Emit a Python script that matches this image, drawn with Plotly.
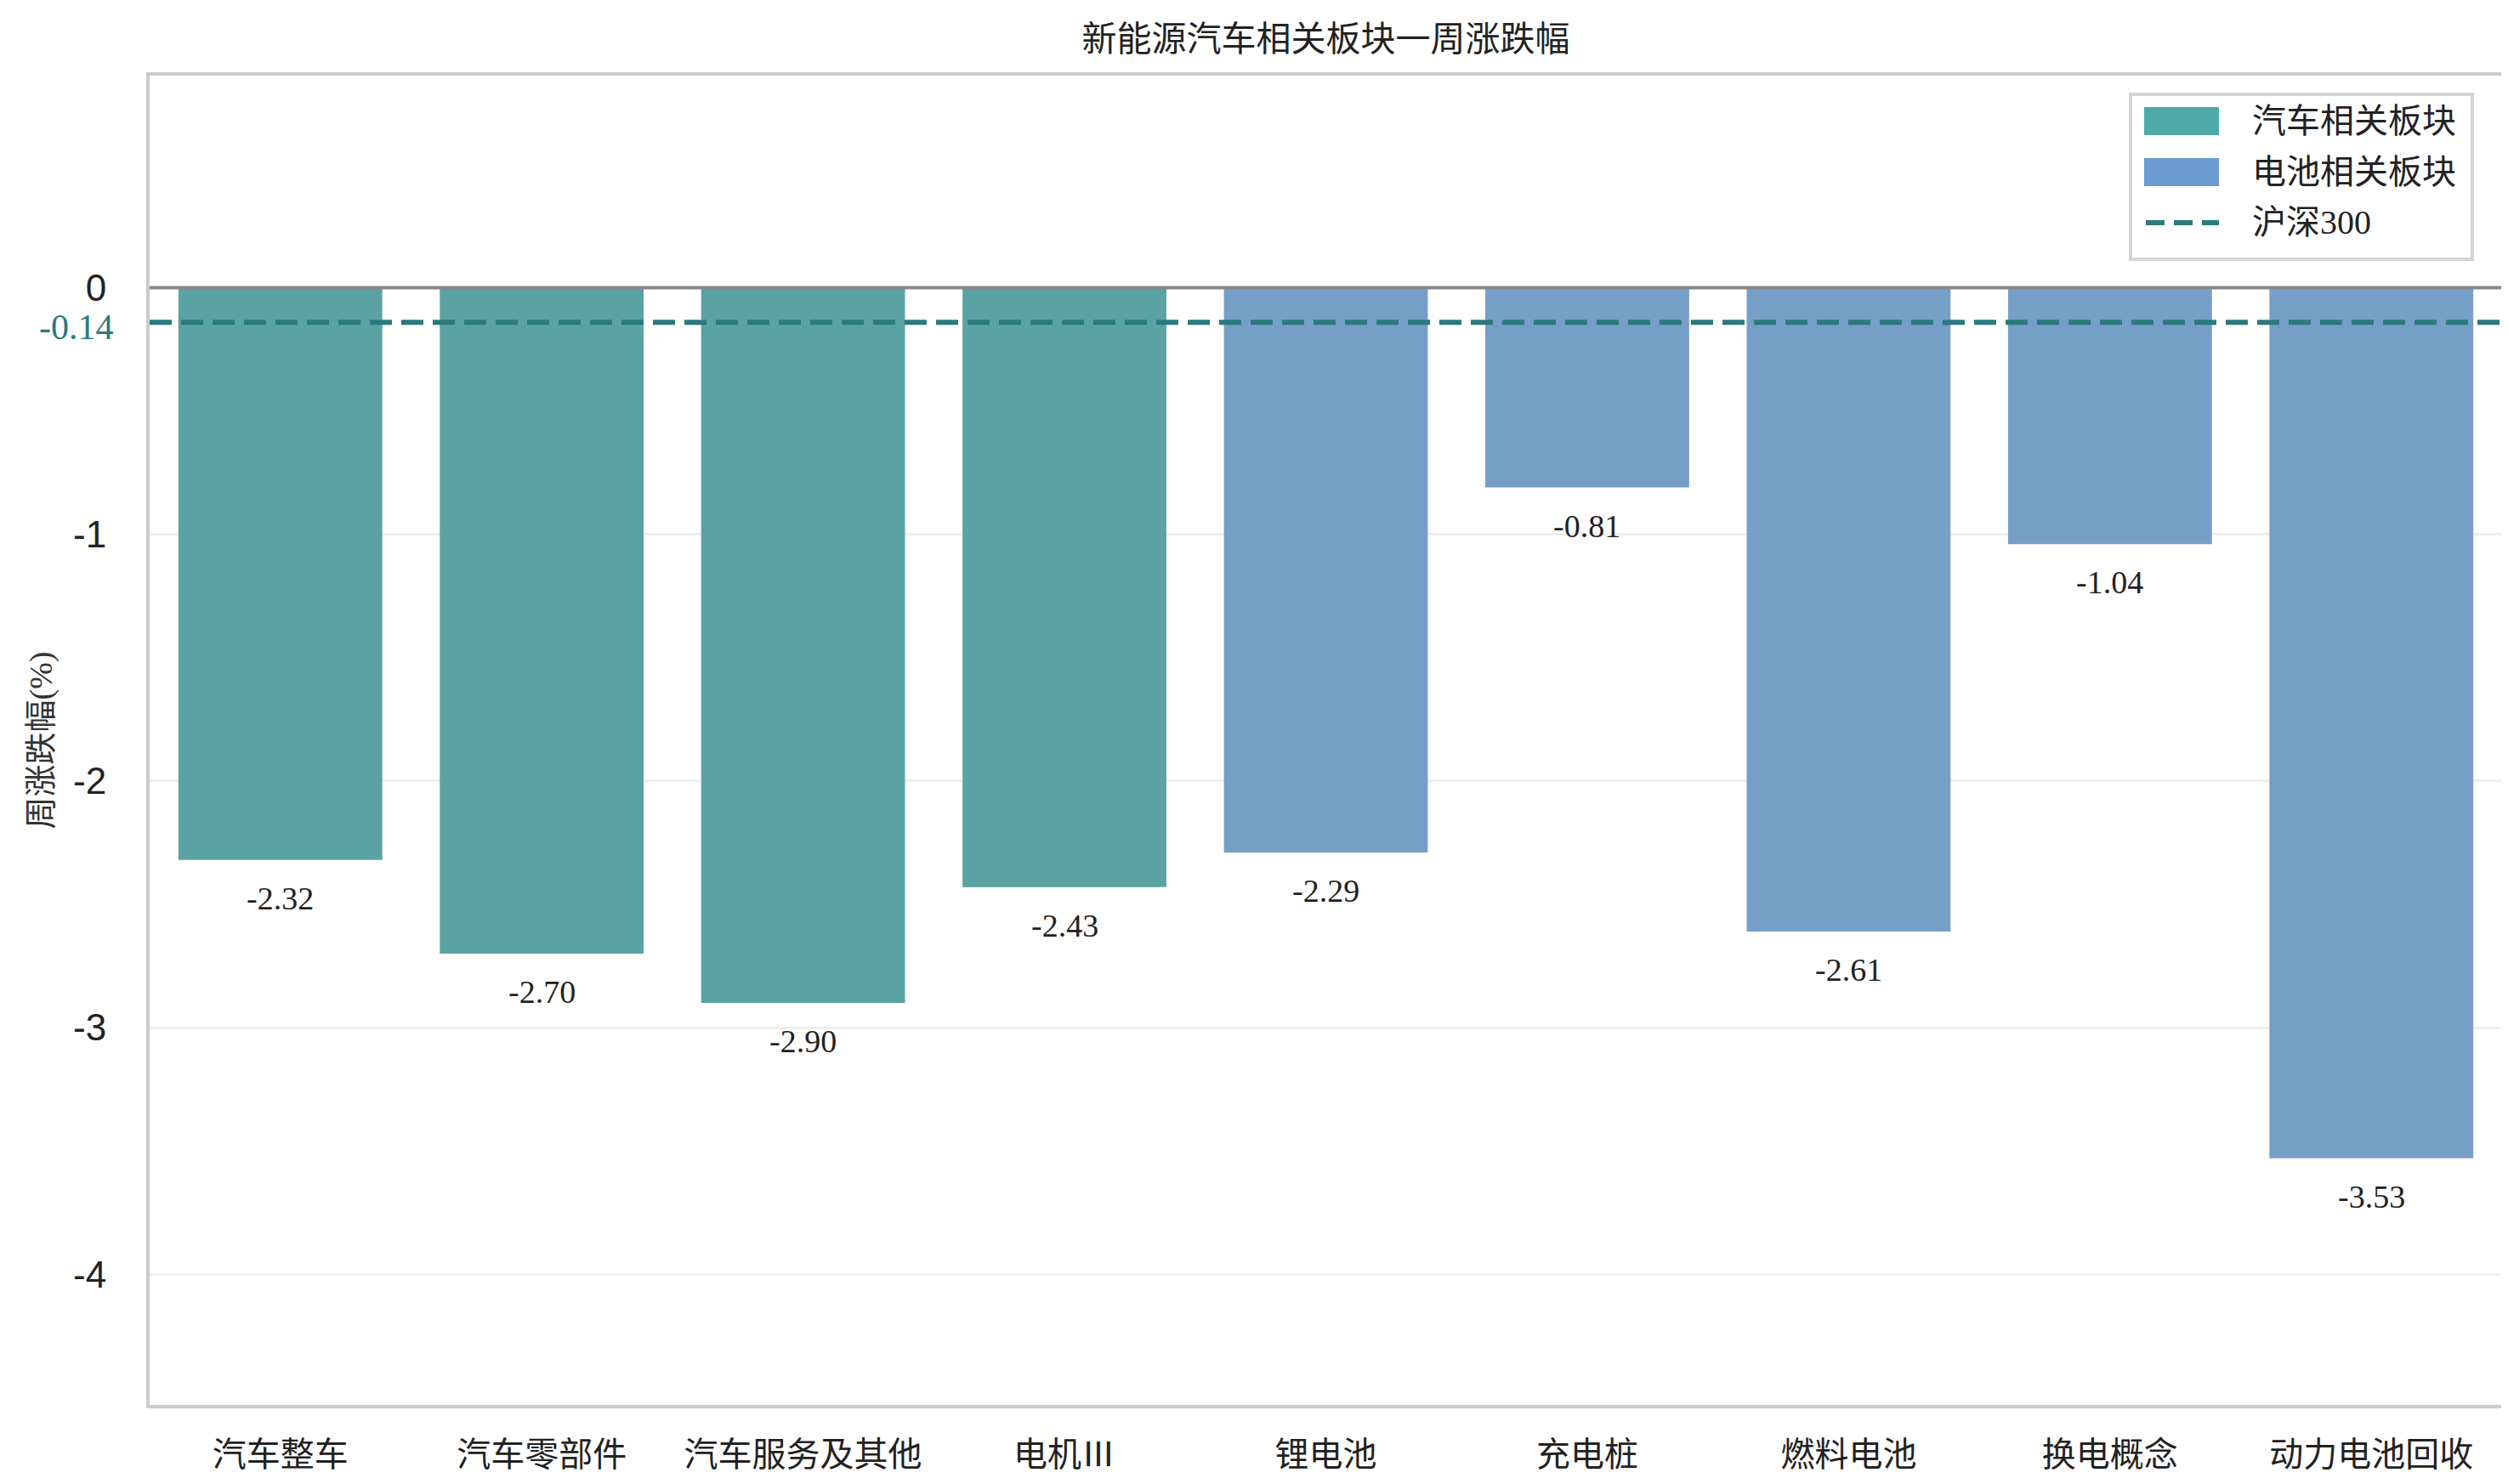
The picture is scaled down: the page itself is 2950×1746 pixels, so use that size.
import plotly.graph_objects as go

# data
car_names = ["汽车整车", "汽车零部件", "汽车服务及其他", "电机Ⅲ"]
car_values = [-2.32, -2.70, -2.90, -2.43]
battery_names = ["锂电池", "充电桩", "燃料电池", "换电概念", "动力电池回收"]
battery_values = [-2.29, -0.81, -2.61, -1.04, -3.53]
hs300 = -0.14
y_ticks = [0, -1, -2, -3, -4]
legend_names = ["汽车相关板块", "电池相关板块", "沪深300"]

categories = car_names + battery_names
values = car_values + battery_values
n = len(categories)
car_x = list(range(len(car_names)))
battery_x = list(range(len(car_names), n))

car_bar = "#5BA2A5"
battery_bar = "#769FC8"
car_legend = "#4FA9A9"
battery_legend = "#6A9BD1"
line_color = "#2A7A7E"

serif = "Liberation Serif, Noto Sans CJK SC"
cjk = "Noto Sans CJK SC"

W, H = 2950, 1746
L, R, T, B = 168, 15, 81, 101


def px(x):
    # pixel -> paper x
    return (x - L) / (W - L - R)


def py(y):
    # pixel -> paper y
    return (H - B - y) / (H - T - B)


fig = go.Figure()

fig.add_trace(go.Bar(x=car_x, y=car_values, width=0.78, marker_color=car_bar,
                     marker_line_width=0, name=legend_names[0], showlegend=False))
fig.add_trace(go.Bar(x=battery_x, y=battery_values, width=0.78, marker_color=battery_bar,
                     marker_line_width=0, name=legend_names[1], showlegend=False))

fig.add_trace(go.Scatter(x=[-0.5, n - 0.5], y=[hs300, hs300], mode="lines", name=legend_names[2],
                         showlegend=False,
                         line=dict(color=line_color, width=6, dash="26px,11px")))

# value labels under each bar
for i, v in enumerate(values):
    fig.add_annotation(x=i, y=v, text=f"{v:.2f}", showarrow=False, yanchor="top", yshift=-22,
                       font=dict(family=serif, size=38, color="#222222"))

fig.add_annotation(xref="paper", x=0, xanchor="right", xshift=-40, y=hs300, yref="y",
                   text=f"{hs300:.2f}", showarrow=False, yshift=-6,
                   font=dict(family=serif, size=42, color=line_color))

# zero line on top of the bars
fig.add_shape(type="line", xref="paper", x0=0, x1=1, yref="y", y0=0, y1=0,
              line=dict(color="#888888", width=4), layer="above")

# legend box drawn by hand so the patches get their real size
fig.add_shape(type="rect", xref="paper", yref="paper", x0=px(2498), x1=px(2900),
              y0=py(297), y1=py(103), line=dict(color="#d4d4d4", width=4),
              fillcolor="white", layer="above")
fig.add_shape(type="rect", xref="paper", yref="paper", x0=px(2514), x1=px(2602),
              y0=py(151), y1=py(118), line_width=0, fillcolor=car_legend, layer="above")
fig.add_shape(type="rect", xref="paper", yref="paper", x0=px(2514), x1=px(2602),
              y0=py(211), y1=py(178), line_width=0, fillcolor=battery_legend, layer="above")
fig.add_shape(type="line", xref="paper", yref="paper", x0=px(2516), x1=px(2602),
              y0=py(254), y1=py(254), layer="above",
              line=dict(color=line_color, width=6, dash="22px,11px"))
for name, row in zip(legend_names, [134, 194, 254]):
    fig.add_annotation(xref="paper", yref="paper", x=px(2639), y=py(row), xanchor="left",
                       yanchor="middle", text=name, showarrow=False,
                       font=dict(family=serif, size=40, color="#222222"))

fig.update_layout(
    width=W, height=H,
    paper_bgcolor="white", plot_bgcolor="white",
    margin=dict(l=L, r=R, t=T, b=B),
    barmode="overlay",
    showlegend=False,
    title=dict(text="新能源汽车相关板块一周涨跌幅", x=0.5, xref="paper", xanchor="center",
               y=1 - 38 / H, yanchor="middle",
               font=dict(family=cjk, size=41, color="#222222")),
)

fig.update_xaxes(range=[-0.5, n - 0.5], tickmode="array", tickvals=list(range(n)),
                 ticktext=categories, showgrid=False, zeroline=False,
                 showline=True, mirror=True, linecolor="#cccccc", linewidth=4,
                 ticks="", ticklabelstandoff=20,
                 tickfont=dict(family=serif, size=40, color="#222222"))
fig.update_yaxes(range=[-4.53, 0.86], tickmode="array", tickvals=y_ticks,
                 ticktext=[str(t) for t in y_ticks],
                 showgrid=True, gridcolor="#efefef", gridwidth=3, zeroline=False,
                 showline=True, mirror=True, linecolor="#cccccc", linewidth=4,
                 ticks="", ticklabelstandoff=38,
                 tickfont=dict(family="Liberation Sans", size=44, color="#222222"),
                 title=dict(text="周涨跌幅(%)", standoff=14,
                            font=dict(family=serif, size=38, color="#333333")))

fig.write_html("out.html")
